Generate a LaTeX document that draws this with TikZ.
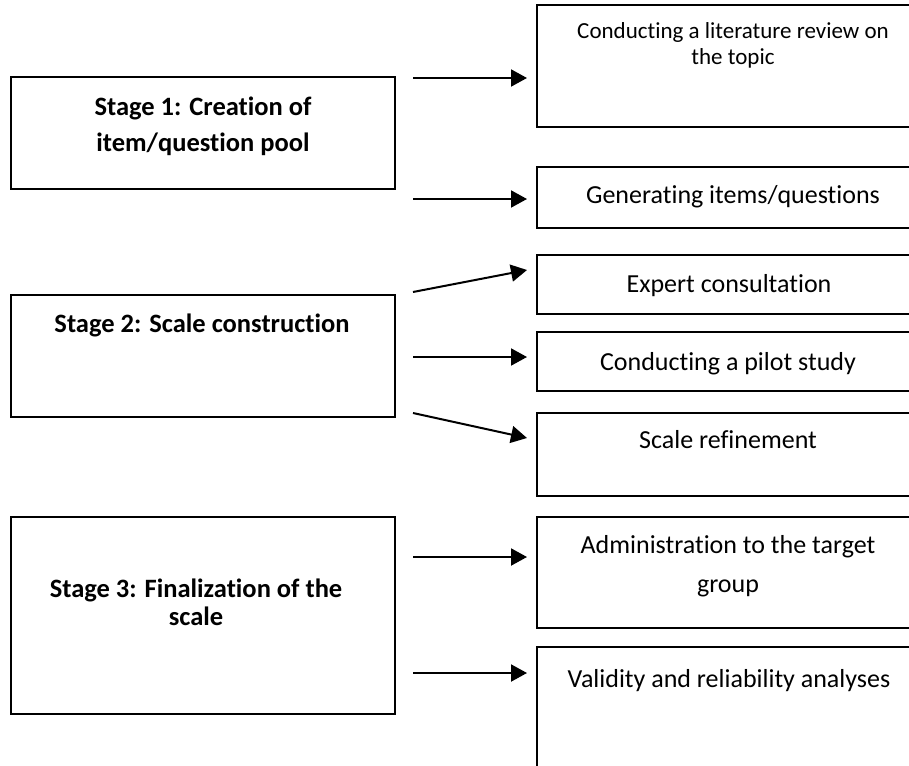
\documentclass[tikz,border=0pt]{standalone}
\usepackage{fontspec}
\setmainfont{Carlito}[Ligatures=NoCommon]
\usetikzlibrary{arrows.meta, positioning}

\tikzset{
	box/.style={draw, line width=1.3pt, inner sep=0pt},
	stagebox/.style={box, minimum width=384pt},
	taskbox/.style={box, minimum width=393pt},
	stagetext/.style={anchor=base, align=center, inner sep=0pt, font=\fontsize{26.5pt}{36pt}\selectfont\bfseries},
	tasktext/.style={anchor=base, align=center, inner sep=0pt, font=\fontsize{26pt}{39pt}\selectfont},
	arr/.style={-{Triangle[length=16pt, width=17pt]}, line width=2pt}
}

\begin{document}
\begin{tikzpicture}[x=1pt, y=-1pt]
		\clip (0,0) rectangle (909,765);
		\fill[white] (0,0) rectangle (909,765);

		% stages on the left
		\node[stagebox, minimum height=112pt] (s1) at (203,133) {};
		\node[stagebox, minimum height=122pt] (s2) at (203,356) {};
		\node[stagebox, minimum height=197pt] (s3) at (203,615.5) {};
		\node[stagetext] (s1t) at (203,151) {Stage 1: Creation of\\item/question pool};
		\node[stagetext] (s2t) at (202,332) {Stage 2: Scale construction};
		\node[stagetext, font=\fontsize{26.5pt}{28pt}\selectfont\bfseries] (s3t) at (196,625) {Stage 3: Finalization of the\\scale};

		% tasks on the right
		\node[taskbox, minimum height=122pt] (r1) at (733.5,66) {};
		\node[taskbox, minimum height=61pt] (r2) at (733.5,197.5) {};
		\node[taskbox, minimum height=59pt] (r3) at (733.5,284.5) {};
		\node[taskbox, minimum height=59pt] (r4) at (733.5,361.5) {};
		\node[taskbox, minimum height=83pt] (r5) at (733.5,454.5) {};
		\node[taskbox, minimum height=111pt] (r6) at (733.5,572.5) {};
		\node[taskbox, minimum height=143pt] (r7) at (733.5,718.5) {};
		\node[tasktext, font=\fontsize{23pt}{26pt}\selectfont] (r1t) at (733,65) {Conducting a literature review on\\the topic};
		\node[tasktext] (r2t) at (733,203) {Generating items/questions};
		\node[tasktext] (r3t) at (729,292) {Expert consultation};
		\node[tasktext] (r4t) at (728,370) {Conducting a pilot study};
		\node[tasktext] (r5t) at (728,448) {Scale refinement};
		\node[tasktext] (r6t) at (728,592) {Administration to the target\\group};
		\node[tasktext] (r7t) at (729,687) {Validity and reliability analyses};

		% arrow ends
		\coordinate (s1a) at (413,78);  \coordinate (r1a) at (527,78);
		\coordinate (s1b) at (413,199); \coordinate (r2a) at (527,199);
		\coordinate (s2a) at (413,292); \coordinate (r3a) at (527,270);
		\coordinate (s2b) at (413,357); \coordinate (r4a) at (527,357);
		\coordinate (s2c) at (413,413); \coordinate (r5a) at (527,438);
		\coordinate (s3a) at (413,557); \coordinate (r6a) at (527,557);
		\coordinate (s3b) at (413,673); \coordinate (r7a) at (527,673);

		\draw[arr] (s1a) -- (r1a);
		\draw[arr] (s1b) -- (r2a);
		\draw[arr] (s2a) -- (r3a);
		\draw[arr] (s2b) -- (r4a);
		\draw[arr] (s2c) -- (r5a);
		\draw[arr] (s3a) -- (r6a);
		\draw[arr] (s3b) -- (r7a);
	\end{tikzpicture}
\end{document}
